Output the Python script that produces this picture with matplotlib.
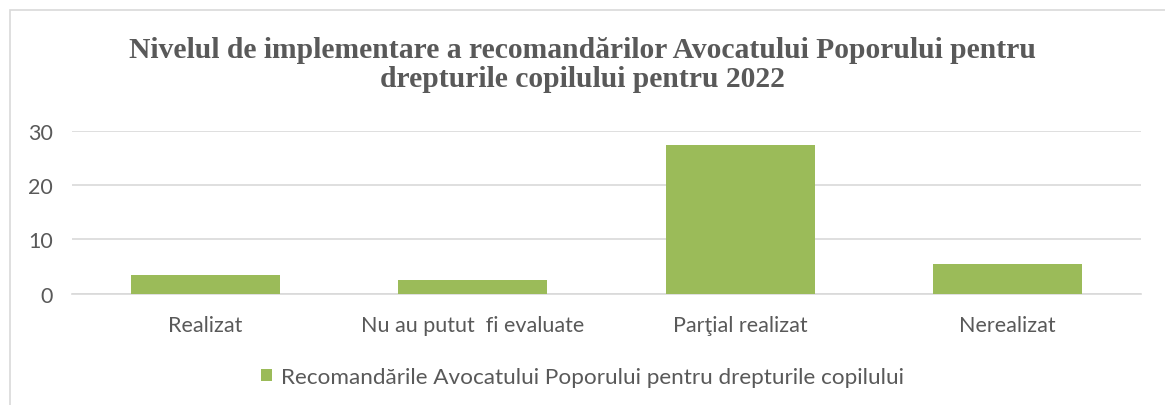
import numpy as np
import matplotlib.pyplot as plt
from matplotlib.patches import Rectangle

categories = ['Realizat', 'Nu au putut  fi evaluate', 'Parţial realizat', 'Nerealizat']
values = [3.5, 2.5, 27.5, 5.5]
series_name = 'Recomandările Avocatului Poporului pentru drepturile copilului'
title = 'Nivelul de implementare a recomandărilor Avocatului Poporului pentru\ndrepturile copilului pentru 2022'

green = '#9BBB59'
grey_txt = '#595959'
grid_c = '#D9D9D9'

fig = plt.figure(figsize=(11.65, 4.06), dpi=100)
# chart frame
fig.patches.append(Rectangle((10 / 1165, -0.1), 1.2, 1.1 - 11 / 406, transform=fig.transFigure,
                             fill=False, edgecolor='#D9D9D9', linewidth=1.2))

ax = fig.add_axes([72 / 1165, 1 - 294.7 / 406, (1141 - 72) / 1165, (294.7 - 132) / 406])
x = np.arange(len(categories))
ax.bar(x, values, width=0.557, color=green, label=series_name, zorder=3)
ax.set_xlim(-0.5, len(categories) - 0.5)
ax.set_ylim(0, 30)
ax.set_yticks([0, 10, 20, 30])
ax.yaxis.grid(True, color=grid_c, linewidth=1.2, zorder=0)
for s in ['top', 'right', 'left']:
    ax.spines[s].set_visible(False)
ax.spines['bottom'].set_color(grid_c)
ax.spines['bottom'].set_linewidth(1.2)
ax.tick_params(axis='both', length=0, labelsize=15.5, labelcolor=grey_txt)
ax.tick_params(axis='x', pad=15)
ax.tick_params(axis='y', pad=14)
ax.set_xticks(x)
ax.set_xticklabels(categories)
for lbl in ax.get_xticklabels() + ax.get_yticklabels():
    lbl.set_family('Lato')

fig.text(0.5, 1 - 65 / 406, title, ha='center', va='center', fontsize=21.3, fontweight='bold',
         family='Liberation Serif', color=grey_txt, linespacing=1.08)

leg = fig.legend(loc='center', bbox_to_anchor=(0.5, 1 - 378 / 406), frameon=False,
                 prop={'family': 'Lato', 'size': 16.2}, handlelength=0.5, handleheight=0.5,
                 handletextpad=0.4)
for t in leg.get_texts():
    t.set_color(grey_txt)

fig.savefig('out.png', dpi=100)
